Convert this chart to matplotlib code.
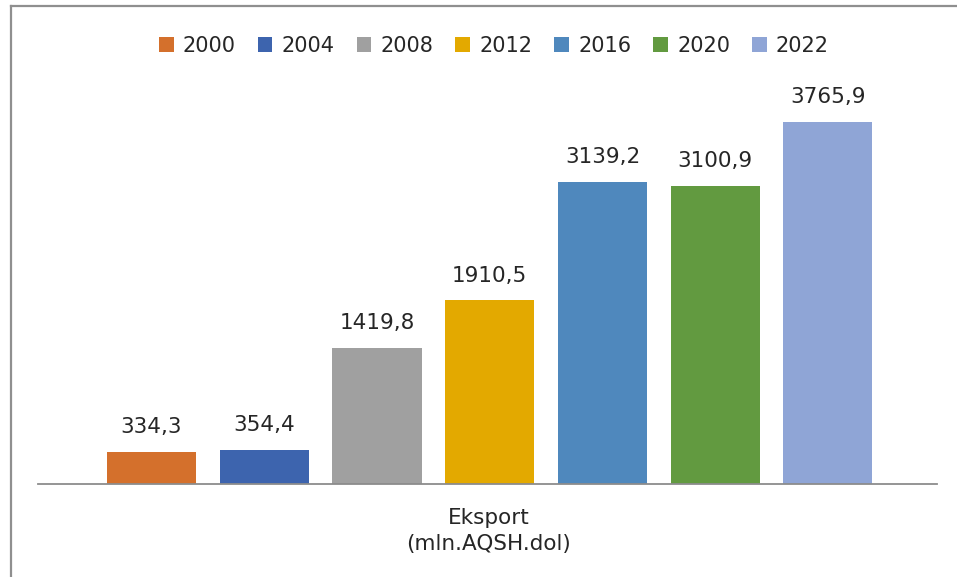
import matplotlib
matplotlib.use("Agg")
import matplotlib.pyplot as plt
from matplotlib.lines import Line2D

years = ["2000", "2004", "2008", "2012", "2016", "2020", "2022"]
values = [334.3, 354.4, 1419.8, 1910.5, 3139.2, 3100.9, 3765.9]
labels = ["334,3", "354,4", "1419,8", "1910,5", "3139,2", "3100,9", "3765,9"]
category = "Eksport\n(mln.AQSH.dol)"
colors = ["#D4702C", "#3D64AE", "#A0A0A0", "#E3A900", "#4F88BD", "#629A40", "#8FA5D6"]

W, H = 957, 577
fig = plt.figure(figsize=(W / 100, H / 100), dpi=100)
fig.patch.set_facecolor("white")

# axes in pixel layout
left, right, bottom, top = 38, 937, 484, 99.5
ax = fig.add_axes([left / W, 1 - bottom / H, (right - left) / W, (bottom - top) / H])

step = 112.7
width = 89 / step
n = len(years)
for i, (y, v, c, lab) in enumerate(zip(years, values, colors, labels)):
    x = i - (n - 1) / 2
    ax.bar(x, v, width=width, color=c, label=y, zorder=2)
    ax.annotate(lab, (x, v), xytext=(0, 13.5), textcoords="offset points",
                ha="center", va="baseline", fontsize=15.5, color="#262626")

ax.set_xlim(-3 - (151.5 - left) / step, 3 + (right - 828) / step)
ax.set_ylim(0, 4000)
for s in ["left", "right", "top"]:
    ax.spines[s].set_visible(False)
ax.spines["bottom"].set_color("#8C8C8C")
ax.spines["bottom"].set_linewidth(1.3)
ax.set_xticks([])
ax.set_yticks([])
ax.patch.set_alpha(0)

# category label
fig.text(489 / W, 1 - 531 / H, category, ha="center", va="center",
         fontsize=15.5, color="#262626", linespacing=1.35)

# legend
handles, leg_labels = ax.get_legend_handles_labels()
fig.legend(handles, leg_labels, loc="center", bbox_to_anchor=(494 / W, 1 - 46 / H),
           ncol=n, frameon=False, fontsize=15, handlelength=0.7, handleheight=0.7,
           handletextpad=0.45, columnspacing=1.05, labelcolor="#262626")

# chart border (left and top lines)
fig.add_artist(Line2D([10.5 / W, 10.5 / W], [0, 1 - 6 / H], transform=fig.transFigure,
                      color="#8F8F8F", linewidth=1.6))
fig.add_artist(Line2D([10.5 / W, 1], [1 - 6 / H, 1 - 6 / H], transform=fig.transFigure,
                      color="#8F8F8F", linewidth=1.6))

fig.savefig("out.png", dpi=100, facecolor="white")
